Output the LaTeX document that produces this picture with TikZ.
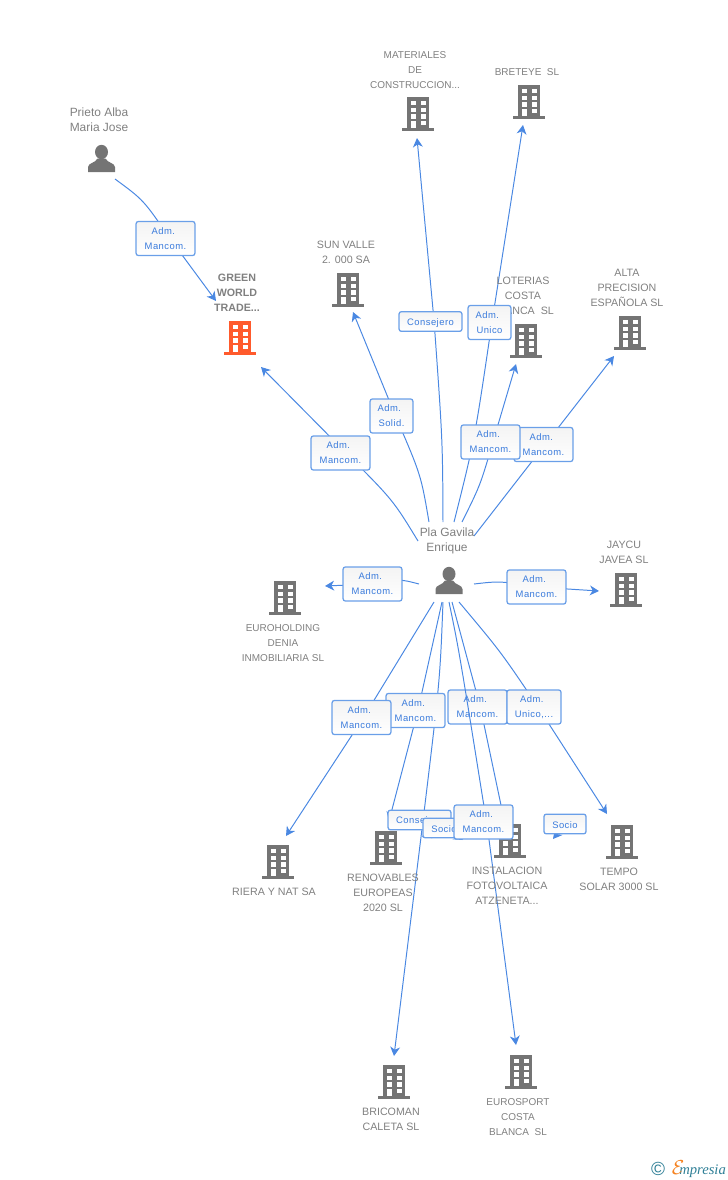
\documentclass[tikz,border=0pt]{standalone}
\usepackage{fontspec}
\setmainfont{Liberation Sans}
\newfontfamily\fuenteCaja[LetterSpace=5]{Liberation Sans}
\newfontfamily\fuenteMarca{Liberation Serif}
\usetikzlibrary{arrows.meta}
\definecolor{azulEnlace}{HTML}{4A88E2}
\definecolor{azulCaja}{HTML}{6A9FE8}
\definecolor{azulTexto}{HTML}{3A7BDC}
\definecolor{grisIcono}{HTML}{747474}
\definecolor{grisTexto}{HTML}{808080}
\definecolor{naranjaIcono}{HTML}{FF5A2C}
\definecolor{tealLogo}{HTML}{2F7F96}
\definecolor{naranjaLogo}{HTML}{F58220}
\pgfdeclarelayer{lineas}
\pgfsetlayers{lineas,main}
\newcommand{\adm}{Adm.\kern3pt}
\tikzset{
	x=0.025cm, y=-0.025cm,
	etiqueta/.style={text=grisTexto, align=center, inner sep=0pt, yshift=-0.6pt, font=\fontsize{7.6pt}{10.63pt}\selectfont},
	etiquetaest/.style={etiqueta, font=\fontsize{7.1pt}{10.63pt}\selectfont},
	etiquetamin/.style={etiqueta, font=\fontsize{8.5pt}{10.63pt}\selectfont},
	caja/.style={draw=azulCaja, line width=0.9pt, rounded corners=1.6pt, top color=gray!9, bottom color=white, text=azulTexto,
		align=center, inner sep=0pt, minimum height=0.85cm, minimum width=1.47cm, execute at begin node={\rule{0pt}{6.6pt}},
		font=\fuenteCaja\fontsize{6.7pt}{10.63pt}\selectfont},
	cajados/.style={caja, minimum width=1.07cm},
	cajauno/.style={caja, minimum height=0.49cm, minimum width=1.57cm},
	socio/.style={caja, minimum height=0.49cm, minimum width=1.05cm},
	enlace/.style={draw=azulEnlace, line width=0.7pt},
	flecha/.style={enlace, -{Stealth[length=6.5pt,width=7pt,inset=2pt]}},
	edificio/.style={inner sep=0pt, minimum width=0.8cm, minimum height=0.85cm, path picture={
		\begin{scope}[shift={(path picture bounding box.center)}]
			\fill[#1] (-11,-17) rectangle (11,15);
			\fill[#1] (-16,14) rectangle (16,17);
			\fill[white] (-7.5,-12.7) rectangle (-2.5,-8.7);
			\fill[white] (2.5,-12.7) rectangle (7.5,-8.7);
			\fill[white] (-7.5,-6.3) rectangle (-2.5,-2);
			\fill[white] (2.5,-6.3) rectangle (7.5,-2);
			\fill[white] (-7.5,0.3) rectangle (-2.5,4.7);
			\fill[white] (2.5,0.3) rectangle (7.5,4.7);
			\fill[white] (-7.5,6.7) rectangle (-2.5,14);
			\fill[white] (2.5,6.7) rectangle (7.5,11.3);
		\end{scope}}},
	persona/.style={inner sep=0pt, minimum width=0.7cm, minimum height=0.7cm, path picture={
		\begin{scope}[shift={(path picture bounding box.center)}]
			\fill[grisIcono] (0,-6.5) ellipse[x radius=6.5, y radius=7.2];
			\fill[grisIcono] (-13.5,13.5) -- (-13.5,8.5) .. controls (-13.5,4.5) and (-6,4.5) .. (-4,0)
				-- (4,0) .. controls (6,4.5) and (13.5,4.5) .. (13.5,8.5) -- (13.5,13.5) -- cycle;
		\end{scope}}}
}
\begin{document}
\begin{tikzpicture}

	\useasboundingbox (0,0) rectangle (728,1180);

	% Iconos de las empresas
	\node[edificio=naranjaIcono] (green) at (240,338) {};
	\node[edificio=grisIcono] (materiales) at (418,114) {};
	\node[edificio=grisIcono] (breteye) at (529,102) {};
	\node[edificio=grisIcono] (sunvalle) at (348,290) {};
	\node[edificio=grisIcono] (loterias) at (526,341) {};
	\node[edificio=grisIcono] (alta) at (630,333) {};
	\node[edificio=grisIcono] (euroholding) at (285,598) {};
	\node[edificio=grisIcono] (jaycu) at (626,590) {};
	\node[edificio=grisIcono] (riera) at (278,862) {};
	\node[edificio=grisIcono] (renovables) at (386,848) {};
	\node[edificio=grisIcono] (instalacion) at (510,841) {};
	\node[edificio=grisIcono] (tempo) at (622,842) {};
	\node[edificio=grisIcono] (bricoman) at (394,1082) {};
	\node[edificio=grisIcono] (eurosport) at (521,1072) {};

	% Iconos de las personas
	\node[persona] (prieto) at (101.5,158.5) {};
	\node[persona] (pla) at (449,580.5) {};

	% Etiquetas de los iconos
	\node[etiquetamin] (tprieto) at (99,118.5) {Prieto Alba\\Maria Jose};
	\node[etiqueta, font=\bfseries\fontsize{7.6pt}{10.63pt}\selectfont] (tgreen) at (237,292) {GREEN\\WORLD\\TRADE...};
	\node[etiquetaest] (tmateriales) at (415,69) {MATERIALES\\DE\\CONSTRUCCION...};
	\node[etiquetaest] (tbreteye) at (527,71) {BRETEYE\ \ SL};
	\node[etiqueta] (tsunvalle) at (346,251.5) {SUN VALLE\\2. 000 SA};
	\node[etiqueta] (tloterias) at (523,295) {LOTERIAS\\COSTA\\BLANCA\ \ SL};
	\node[etiqueta] (talta) at (627,287) {ALTA\\PRECISION\\ESPAÑOLA SL};
	\node[etiquetamin] (tpla) at (447,540.5) {Pla Gavila\\Enrique};
	\node[etiqueta] (tjaycu) at (624,551.5) {JAYCU\\JAVEA SL};
	\node[etiquetaest] (teuroholding) at (283,642) {EUROHOLDING\\DENIA\\INMOBILIARIA SL};
	\node[etiqueta] (triera) at (274,891) {RIERA Y NAT SA};
	\node[etiqueta] (trenovables) at (383,892) {RENOVABLES\\EUROPEAS\\2020 SL};
	\node[etiqueta] (tinstalacion) at (507,885) {INSTALACION\\FOTOVOLTAICA\\ATZENETA...};
	\node[etiqueta] (ttempo) at (619,878.5) {TEMPO\\SOLAR 3000 SL};
	\node[etiqueta] (tbricoman) at (391,1118.5) {BRICOMAN\\CALETA SL};
	\node[etiquetaest] (teurosport) at (518,1116) {EUROSPORT\\COSTA\\BLANCA\ \ SL};

	% Cajas de los cargos, parte de arriba
	\node[caja] (cprieto) at (165.5,238.5) {\adm\\Mancom.};
	\node[caja] (cgreen) at (340.5,453) {\adm\\Mancom.};
	\node[cajados] (csunvalle) at (391.5,416) {\adm\\Solid.};
	\node[cajauno] (cmateriales) at (430.5,321.5) {Consejero};
	\node[cajados] (cbreteye) at (489.5,322.5) {\adm\\Unico};
	\node[caja] (calta) at (543.5,444.5) {\adm\\Mancom.};
	\node[caja] (cloterias) at (490.5,442) {\adm\\Mancom.};
	\node[caja] (ceuroholding) at (372.5,584) {\adm\\Mancom.};
	\node[caja] (cjaycu) at (536.5,587) {\adm\\Mancom.};

	% Cajas de los cargos, parte de abajo
	\node[caja] (crenovables) at (415.5,710.5) {\adm\\Mancom.};
	\node[caja] (criera) at (361.5,717.5) {\adm\\Mancom.};
	\node[caja] (cinstalacion) at (477.5,707) {\adm\\Mancom.};
	\node[cajados, minimum width=1.35cm] (ctempo) at (534,707) {\adm\\Unico,...};

	% Este enlace pasa por encima de la caja anterior
	\coordinate (ieurosport) at (449,602);
	\coordinate (meurosport) at (486.5,822);
	\draw[enlace] (ieurosport) .. controls (459,650) .. (meurosport);

	\node[cajauno] (cbricoman) at (419.5,820) {Consejero};
	\node[socio] (csocio) at (444,828) {Socio};
	\node[caja] (ceurosport) at (483.5,822) {\adm\\Mancom.};
	\node[socio] (csociotempo) at (565,824) {Socio};

	\begin{pgfonlayer}{lineas}

		% Enlace de Prieto Alba
		\coordinate (iprieto) at (115,179);
		\coordinate (fgreenp) at (216,301);
		\draw[enlace] (iprieto) .. controls (143.6,200) .. ([xshift=0.11cm]cprieto.center);
		\draw[flecha] ([xshift=0.11cm]cprieto.center) -- (fgreenp);

		% Enlaces de Pla Gavila hacia arriba
		\coordinate (igreen) at (418,541);
		\coordinate (fgreen) at (261,367);
		\draw[enlace] (igreen) .. controls (393,500) .. ([xshift=0.14cm]cgreen.center);
		\draw[flecha] ([xshift=0.14cm]cgreen.center) -- (fgreen);

		\coordinate (isunvalle) at (429,522);
		\coordinate (fsunvalle) at (353,312);
		\draw[enlace] (isunvalle) .. controls (421,475) .. ([xshift=0.1cm]csunvalle.center);
		\draw[flecha] ([xshift=0.1cm]csunvalle.center) -- (fsunvalle);

		\coordinate (imateriales) at (443,522);
		\coordinate (fmateriales) at (417,138);
		\draw[enlace] (imateriales) .. controls (442.6,440) .. ([xshift=0.09cm]cmateriales.center);
		\draw[flecha] ([xshift=0.09cm]cmateriales.center) -- (fmateriales);

		\coordinate (ibreteye) at (454,522);
		\coordinate (fbreteye) at (523,125);
		\draw[enlace] (ibreteye) .. controls (474.6,440) .. ([xshift=0.06cm]cbreteye.center);
		\draw[flecha] ([xshift=0.06cm]cbreteye.center) -- (fbreteye);

		\coordinate (iloterias) at (462,522);
		\coordinate (floterias) at (516,364);
		\draw[enlace] (iloterias) .. controls (480.4,485) .. ([xshift=0.06cm]cloterias.center);
		\draw[flecha] ([xshift=0.06cm]cloterias.center) -- (floterias);

		\coordinate (ialta) at (474,536);
		\coordinate (falta) at (614,356);
		\draw[enlace] (ialta) -- ([xshift=0.04cm]calta.center);
		\draw[flecha] ([xshift=0.04cm]calta.center) -- (falta);

		% Enlaces de Pla Gavila a los lados
		\coordinate (ieuroholding) at (419,584);
		\coordinate (feuroholding) at (325,586);
		\draw[enlace] (ieuroholding) .. controls (400,579) .. (ceuroholding.center);
		\draw[flecha] (ceuroholding.center) -- (feuroholding);

		\coordinate (ijaycu) at (474,584);
		\coordinate (fjaycu) at (599,591);
		\draw[enlace] (ijaycu) .. controls (500,581) .. (cjaycu.center);
		\draw[flecha] (cjaycu.center) -- (fjaycu);

		% Enlaces de Pla Gavila hacia abajo
		\coordinate (iriera) at (434,602);
		\coordinate (friera) at (286,836);
		\draw[enlace] (iriera) -- ([xshift=0.05cm]criera.center);
		\draw[flecha] ([xshift=0.05cm]criera.center) -- (friera);

		\coordinate (irenovables) at (442,602);
		\coordinate (frenovables) at (389,821);
		\draw[enlace] (irenovables) -- ([xshift=0.06cm]crenovables.center);
		\draw[flecha] ([xshift=0.06cm]crenovables.center) -- (frenovables);

		\coordinate (ibricoman) at (443,602);
		\coordinate (fbricoman) at (394,1056);
		\draw[enlace] (ibricoman) .. controls (440,680) .. ([xshift=0.09cm]cbricoman.center);
		\draw[flecha] ([xshift=0.09cm]cbricoman.center) -- (fbricoman);

		\coordinate (feurosport) at (516,1045);
		\draw[flecha] ([xshift=0.08cm]ceurosport.center) -- (feurosport);

		\coordinate (iinstalacion) at (452,602);
		\coordinate (finstalacion) at (505,824);
		\draw[enlace] (iinstalacion) -- ([xshift=0.07cm]cinstalacion.center);
		\draw[enlace] ([xshift=0.07cm]cinstalacion.center) -- (finstalacion);

		\coordinate (itempo) at (459,602);
		\coordinate (ftempo) at (607,814);
		\draw[enlace] (itempo) .. controls (501,652) .. ([xshift=0.1cm]ctempo.center);
		\draw[flecha] ([xshift=0.1cm]ctempo.center) -- (ftempo);

		% Flechas cortas de los socios
		\coordinate (fsociouno) at (422,837);
		\coordinate (fsociotres) at (463,840);
		\coordinate (fsociodos) at (553,839);
		\draw[flecha] (csocio.center) -- (fsociouno);
		\draw[flecha] (csocio.center) -- (fsociotres);
		\draw[flecha] (csociotempo.center) -- (fsociodos);

	\end{pgfonlayer}

	% Marca de la esquina
	\node[text=tealLogo, inner sep=0pt, font=\fontsize{13.5pt}{14pt}\selectfont] (copyr) at (658,1169) {©};
	\node[anchor=west, inner sep=0pt, text=tealLogo, font=\fuenteMarca\itshape\fontsize{10.4pt}{12pt}\selectfont] (marca) at (679,1171) {mpresia};
	\node[text=naranjaLogo, inner sep=0pt, font=\fontsize{14pt}{16pt}\selectfont] (marcae) at (678,1168) {$\mathcal{E}$};

\end{tikzpicture}
\end{document}
